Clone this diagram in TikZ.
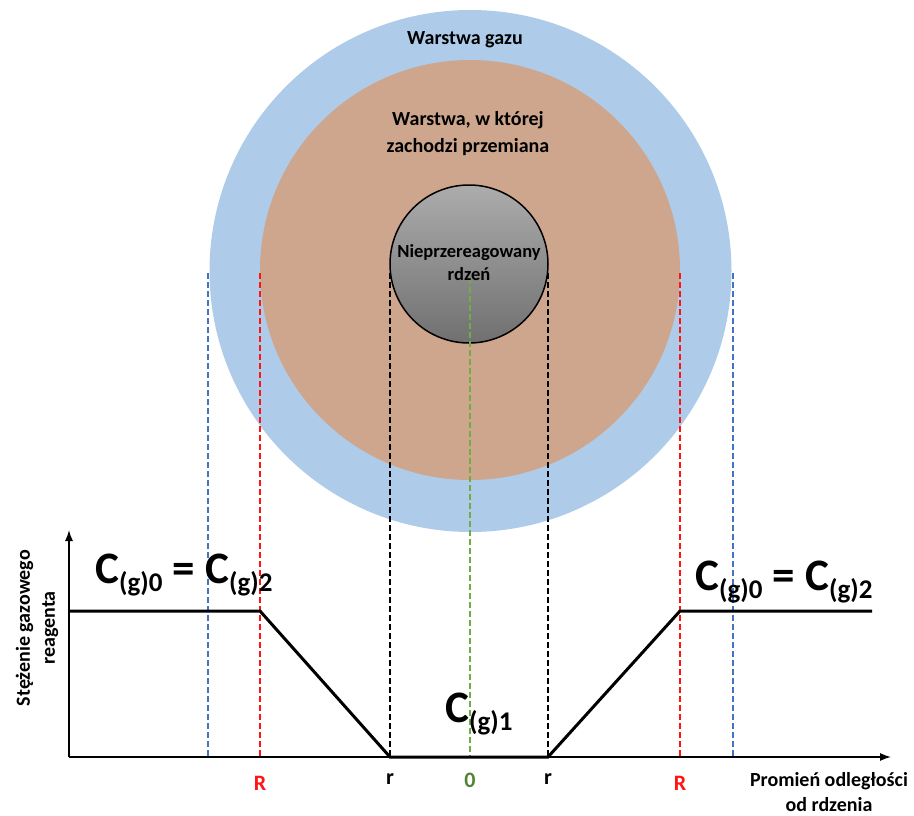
\documentclass[tikz,border=0pt]{standalone}
\usepackage{fontspec}
\setmainfont{Carlito}
\usetikzlibrary{arrows.meta}
\definecolor{gasblue}{RGB}{174,204,234}
\definecolor{tan}{RGB}{205,166,141}
\definecolor{dblue}{RGB}{68,114,196}
\definecolor{dred}{RGB}{255,20,20}
\definecolor{dgreen}{RGB}{112,173,71}
\definecolor{rgreen}{RGB}{84,130,53}
\tikzset{
  guide/.style={dashed, dash pattern=on 6pt off 3pt, line width=1.1pt},
  lbl/.style={font=\fontsize{20}{24}\selectfont\bfseries, align=center, inner sep=0pt},
  ticklbl/.style={font=\fontsize{22}{24}\selectfont\bfseries, inner sep=0pt},
  biglbl/.style={font=\fontsize{45}{50}\selectfont\bfseries, inner sep=0pt},
  axisline/.style={line width=1.4pt, -{Latex[length=11pt,width=8pt]}},
  curve/.style={line width=3pt, line join=miter}
}
\newcommand{\csub}[1]{\raisebox{-8pt}{\fontsize{27}{29}\selectfont #1}}
\begin{document}
\begin{tikzpicture}[x=1pt,y=-1pt]
\useasboundingbox (0,0) rectangle (914,816);
% circles
\fill[gasblue] (470.5,271) circle[radius=261pt];
\fill[tan] (470,270) circle[radius=210pt];
% guide lines behind core
\coordinate (bl) at (208,273); \coordinate (bl2) at (208,757);
\coordinate (rl) at (260,273); \coordinate (rl2) at (260,757);
\coordinate (kl) at (390,273); \coordinate (kl2) at (390,757);
\coordinate (kr) at (548,273); \coordinate (kr2) at (548,757);
\coordinate (rr) at (680,273); \coordinate (rr2) at (680,757);
\coordinate (br) at (733,273); \coordinate (br2) at (733,757);
\coordinate (g1) at (470,278); \coordinate (g2) at (470,757);
\draw[guide, dblue] (bl) -- (bl2);
\draw[guide, dblue] (br) -- (br2);
\draw[guide, dred] (rl) -- (rl2);
\draw[guide, dred] (rr) -- (rr2);
\draw[guide, black] (kl) -- (kl2);
\draw[guide, black] (kr) -- (kr2);
% core
\shade[top color={rgb,255:red,172;green,172;blue,172}, bottom color={rgb,255:red,112;green,112;blue,112}, draw=black, line width=1.5pt] (469,264) circle[radius=79pt];
\draw[guide, dgreen] (g1) -- (g2);
% circle labels
\node[lbl] (gaz) at (465,40) {Warstwa gazu};
\node[lbl] (warstwa) at (468,134) {Warstwa, w której\\[3pt]zachodzi przemiana};
\node[lbl, font=\fontsize{18.5}{22}\selectfont\bfseries] (rdzen) at (469,263) {Nieprzereagowany\\[1pt]rdzeń};
% axes
\coordinate (O) at (69,757);
\coordinate (ytop) at (69,530);
\coordinate (xend) at (891,757);
\draw[axisline] (O) -- (ytop);
\draw[axisline] (O) -- (xend);
% curve
\coordinate (c0) at (69,611);
\coordinate (c1) at (260,611);
\coordinate (c2) at (390,757);
\coordinate (c3) at (548,757);
\coordinate (c4) at (680,611);
\coordinate (c5) at (872,611);
\draw[curve] (c0) -- (c1) -- (c2) -- (c3) -- (c4) -- (c5);
% axis labels
\node[ticklbl, text=dred] (R1) at (260,783) {R};
\node[ticklbl] (r1) at (390,779) {r};
\node[ticklbl, text=rgreen] (zero) at (470,780) {0};
\node[ticklbl] (r2) at (548,779) {r};
\node[ticklbl, text=dred] (R2) at (680,783) {R};
\node[lbl] (xlab) at (829,792) {Promień odległości\\[1pt]od rdzenia};
\node[lbl, rotate=90] (ylab) at (37,628) {Stężenie gazowego\\[1pt]reagenta};
% concentration labels
\node[biglbl, anchor=base west] (cl) at (95,583) {C\csub{(g)0} = C\csub{(g)2}};
\node[biglbl, anchor=base west] (cr) at (695,590) {C\csub{(g)0} = C\csub{(g)2}};
\node[biglbl, anchor=base west] (cm) at (445,722) {C\csub{(g)1}};
\end{tikzpicture}
\end{document}
